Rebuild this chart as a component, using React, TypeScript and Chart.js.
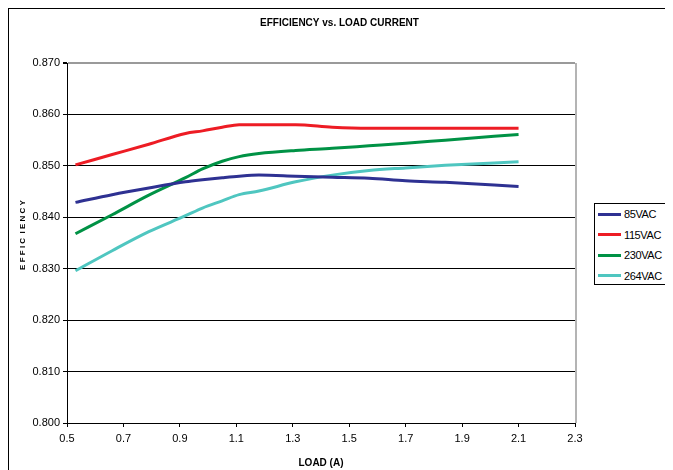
import React, { useEffect, useRef } from "react";
import { Chart, registerables } from "chart.js";

Chart.register(...registerables);

const loads = [0.53, 0.66, 0.79, 0.92, 0.98, 1.05, 1.11, 1.18, 1.31, 1.44, 1.57, 1.70, 1.84, 2.10];
const eff85 = [0.8429, 0.8444, 0.8457, 0.8469, 0.8473, 0.8477, 0.8480, 0.8482, 0.8480, 0.8478, 0.8476, 0.8471, 0.8468, 0.8460];
const eff115 = [0.8502, 0.8522, 0.8542, 0.8563, 0.8568, 0.8575, 0.8580, 0.8580, 0.8580, 0.8575, 0.8573, 0.8573, 0.8573, 0.8573];
const eff230 = [0.8368, 0.8405, 0.8443, 0.8477, 0.8494, 0.8509, 0.8518, 0.8524, 0.8530, 0.8534, 0.8539, 0.8544, 0.8550, 0.8561];
const eff264 = [0.8296, 0.8335, 0.8372, 0.8403, 0.8418, 0.8432, 0.8444, 0.8451, 0.8469, 0.8482, 0.8491, 0.8496, 0.8501, 0.8508];

const seriesNames = ["85VAC", "115VAC", "230VAC", "264VAC"];
const seriesColors = ["#2e3192", "#ed1c24", "#009245", "#4fc6c0"];
const seriesValues = [eff85, eff115, eff230, eff264];

const chartTitle = "EFFICIENCY vs. LOAD CURRENT";
const xTitle = "LOAD (A)";
const yTitle = "E F F I C  I E N C Y";

const FONT = "'Liberation Sans', Arial, sans-serif";

export default function App() {
  const ref = useRef<HTMLCanvasElement | null>(null);

  useEffect(() => {
    document.documentElement.style.overflow = "hidden";
    const canvas = ref.current;
    if (!canvas) return;

    const extras = {
      id: "extras",
      afterDraw(chart: any) {
        const { ctx, chartArea } = chart;
        ctx.save();
        // right border
        ctx.strokeStyle = "#b4b4b4";
        ctx.lineWidth = 2;
        ctx.beginPath();
        ctx.moveTo(chartArea.right + 1, chartArea.top);
        ctx.lineTo(chartArea.right + 1, chartArea.bottom);
        ctx.stroke();
        // title
        ctx.fillStyle = "#000";
        ctx.textAlign = "center";
        ctx.textBaseline = "middle";
        ctx.font = `bold 10px ${FONT}`;
        ctx.fillText(chartTitle, 330.5, 14);
        // x title
        ctx.fillText(xTitle, (chartArea.left + chartArea.right) / 2, 454);
        // y title
        ctx.font = `bold 8px ${FONT}`;
        ctx.translate(13.5, 226);
        ctx.rotate(-Math.PI / 2);
        ctx.fillText(yTitle, 0, 0);
        ctx.restore();
      },
    };

    const chart = new Chart(canvas, {
      type: "line",
      data: {
        datasets: seriesNames.map((name, i) => ({
          label: name,
          data: loads.map((x, j) => ({ x, y: seriesValues[i][j] })),
          borderColor: seriesColors[i],
          backgroundColor: seriesColors[i],
          borderWidth: 3,
          pointRadius: 0,
          cubicInterpolationMode: "monotone" as const,
          fill: false,
        })),
      },
      options: {
        responsive: false,
        animation: false,
        layout: { padding: { left: 0, right: 95, top: 54, bottom: 0 } },
        plugins: {
          legend: { display: false },
          title: { display: false },
          tooltip: { enabled: false },
        },
        scales: {
          x: {
            type: "linear",
            min: 0.5,
            max: 2.3,
            afterFit: (s: any) => {
              s.height = 47;
            },
            ticks: {
              stepSize: 0.2,
              padding: 5,
              color: "#000",
              font: { family: FONT, size: 11 },
              callback: (v: any) => Number(v).toFixed(1),
              maxRotation: 0,
            },
            grid: {
              drawOnChartArea: false,
              drawTicks: true,
              tickLength: 4,
              tickColor: "#000",
            },
            border: { color: "#000", width: 1 },
          },
          y: {
            type: "linear",
            min: 0.8,
            max: 0.87,
            afterFit: (s: any) => {
              s.width = 58;
            },
            ticks: {
              stepSize: 0.01,
              padding: 3,
              color: "#000",
              font: { family: FONT, size: 11 },
              callback: (v: any) => Number(v).toFixed(3),
            },
            grid: {
              color: (c: any) =>
                c.tick && Math.abs(c.tick.value - 0.87) < 1e-6 ? "#9a9a9a" : "#000",
              lineWidth: (c: any) =>
                c.tick && Math.abs(c.tick.value - 0.87) < 1e-6 ? 2 : 1,
              tickLength: 4,
              tickColor: "#000",
            },
            border: { color: "#000", width: 1 },
          },
        },
      },
      plugins: [extras],
    });

    return () => chart.destroy();
  }, []);

  return (
    <div
      style={{
        position: "relative",
        width: 661,
        height: 470,
        borderTop: "1px solid #000",
        borderLeft: "1px solid #000",
        borderRight: "1px solid #000",
        background: "#fff",
      }}
    >
      <canvas ref={ref} width={661} height={461} style={{ display: "block" }} />
      <div
        style={{
          position: "absolute",
          left: 585,
          top: 194,
          width: 71,
          height: 80,
          border: "1px solid #000",
          background: "#fff",
          fontFamily: FONT,
          fontSize: 11,
          color: "#000",
        }}
      >
        {seriesNames.map((name, i) => (
          <div
            key={name}
            style={{
              position: "absolute",
              left: 3,
              top: 3 + i * 20.5,
              height: 14,
              display: "flex",
              alignItems: "center",
              whiteSpace: "nowrap",
            }}
          >
            <span
              style={{
                display: "inline-block",
                width: 23,
                height: 3,
                background: seriesColors[i],
                marginRight: 3,
              }}
            />
            <span style={{ letterSpacing: -0.4 }}>{name}</span>
          </div>
        ))}
      </div>
    </div>
  );
}
